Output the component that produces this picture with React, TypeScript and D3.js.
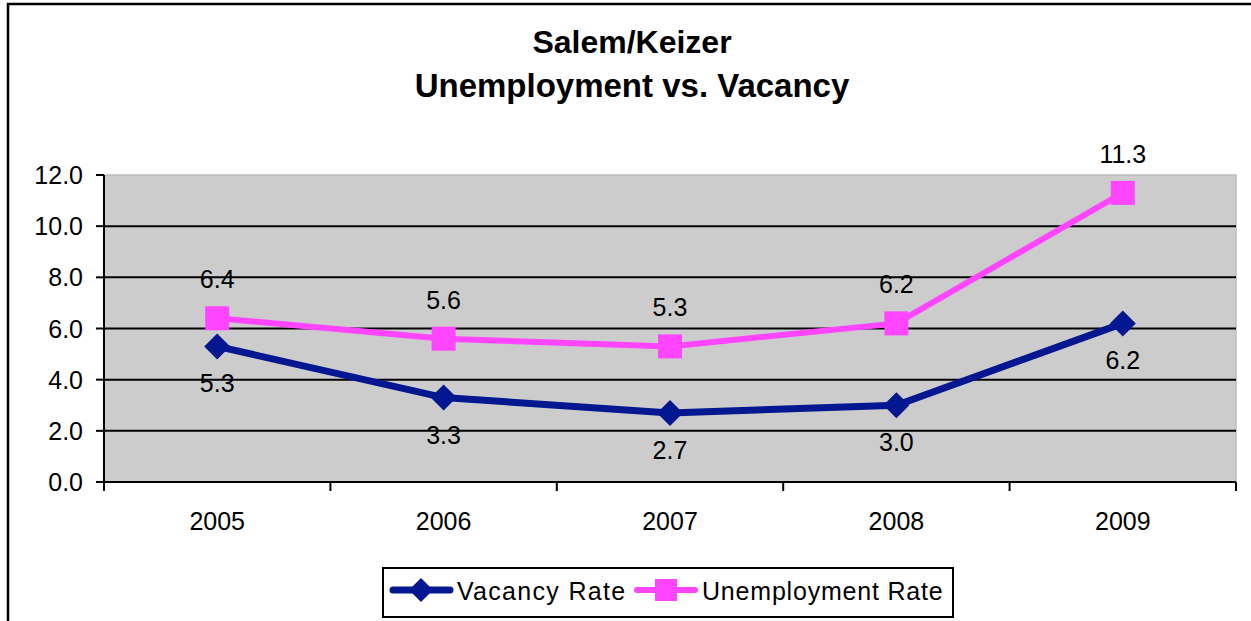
import React from 'react';
import * as d3 from 'd3';

const years = ['2005', '2006', '2007', '2008', '2009'];
const vacancyRate = [5.3, 3.3, 2.7, 3.0, 6.2];
const unemploymentRate = [6.4, 5.6, 5.3, 6.2, 11.3];
const yTicks = [0, 2, 4, 6, 8, 10, 12];

const W = 1251;
const H = 621;
const FONT = '"Liberation Sans", Arial, sans-serif';
const NAVY = '#031791';
const PINK = '#ff45ff';

const App = () => {
  const left = 104, right = 1236, top = 175, bottom = 482;

  const x = d3.scaleBand().domain(years).range([left, right]);
  const y = d3.scaleLinear().domain([0, 12]).range([bottom, top]);
  const cx = (yr) => (x(yr) || 0) + x.bandwidth() / 2;

  const lineGen = d3.line().x((d) => cx(d[0])).y((d) => y(d[1]));
  const vacPts = years.map((yr, i) => [yr, vacancyRate[i]]);
  const unPts = years.map((yr, i) => [yr, unemploymentRate[i]]);

  const diamond = (px, py, r) => `M${px},${py - r}L${px + r},${py}L${px},${py + r}L${px - r},${py}Z`;

  return (
    <svg width={W} height={H} style={{ position: 'absolute', left: 0, top: 0 }} fontFamily={FONT}>
      <rect x={0} y={0} width={W} height={H} fill="#fff" />
      {/* outer chart border, runs off the right and bottom */}
      <rect x={8} y={4} width={W + 20} height={H + 20} fill="none" stroke="#000" strokeWidth={2.5} />

      {/* title */}
      <text x={632} y={53} textAnchor="middle" fontWeight="bold" fontSize={32}>Salem/Keizer</text>
      <text x={632} y={97} textAnchor="middle" fontWeight="bold" fontSize={33}>Unemployment vs. Vacancy</text>

      {/* plot area */}
      <rect x={left} y={top} width={right - left} height={bottom - top} fill="#cccccc" stroke="#bdbdbd" strokeWidth={1.5} />
      {yTicks.filter((t) => t > 0 && t < 12).map((t) => (
        <line key={t} x1={left} x2={right} y1={y(t)} y2={y(t)} stroke="#000" strokeWidth={2} />
      ))}

      {/* y axis */}
      <line x1={left} x2={left} y1={top} y2={bottom} stroke="#000" strokeWidth={2} />
      {yTicks.map((t) => (
        <g key={t}>
          <line x1={96} x2={left} y1={y(t)} y2={y(t)} stroke="#000" strokeWidth={2} />
          <text x={83} y={y(t) + 9} textAnchor="end" fontSize={25}>{d3.format('.1f')(t)}</text>
        </g>
      ))}

      {/* x axis */}
      <line x1={left} x2={right} y1={bottom} y2={bottom} stroke="#000" strokeWidth={2} />
      {years.map((yr) => (
        <line key={yr} x1={x(yr)} x2={x(yr)} y1={bottom} y2={bottom + 9} stroke="#000" strokeWidth={2} />
      ))}
      <line x1={right} x2={right} y1={bottom} y2={bottom + 9} stroke="#000" strokeWidth={2} />
      {years.map((yr) => (
        <text key={yr} x={cx(yr)} y={530} textAnchor="middle" fontSize={25}>{yr}</text>
      ))}

      {/* series */}
      <path d={lineGen(unPts) || ''} fill="none" stroke={PINK} strokeWidth={6} />
      <path d={lineGen(vacPts) || ''} fill="none" stroke={NAVY} strokeWidth={7} />
      {unPts.map((p) => (
        <rect key={p[0]} x={cx(p[0]) - 12} y={y(p[1]) - 12} width={24} height={24} fill={PINK} />
      ))}
      {vacPts.map((p) => (
        <path key={p[0]} d={diamond(cx(p[0]), y(p[1]), 13)} fill={NAVY} />
      ))}

      {/* data labels */}
      {unPts.map((p) => (
        <text key={p[0]} x={cx(p[0])} y={y(p[1]) - 30} textAnchor="middle" fontSize={25}>{d3.format('.1f')(p[1])}</text>
      ))}
      {vacPts.map((p) => (
        <text key={p[0]} x={cx(p[0])} y={y(p[1]) + 46} textAnchor="middle" fontSize={25}>{d3.format('.1f')(p[1])}</text>
      ))}

      {/* legend */}
      <rect x={383} y={568} width={570} height={49} fill="#fff" stroke="#000" strokeWidth={2} />
      <line x1={393} x2={450} y1={590} y2={590} stroke={NAVY} strokeWidth={7} strokeLinecap="round" />
      <path d={diamond(421, 590, 12)} fill={NAVY} />
      <text x={457} y={600} fontSize={25} letterSpacing={1.3}>Vacancy Rate</text>
      <line x1={637} x2={695} y1={590} y2={590} stroke={PINK} strokeWidth={6} strokeLinecap="round" />
      <rect x={655} y={579} width={22} height={22} fill={PINK} />
      <text x={702} y={600} fontSize={25} letterSpacing={0.8}>Unemployment Rate</text>
    </svg>
  );
};

export default App;
